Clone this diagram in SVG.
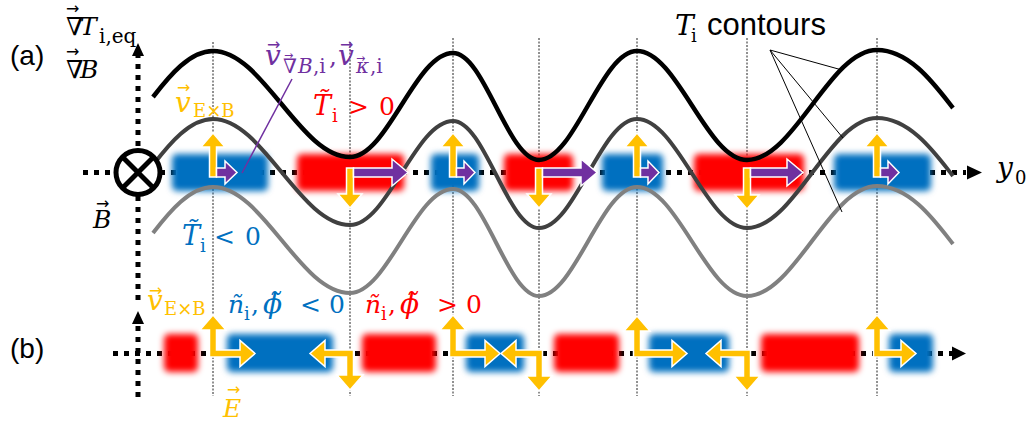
<svg xmlns="http://www.w3.org/2000/svg" width="1035" height="421" viewBox="0 0 1035 421">
<style>
.ax{stroke:#000;stroke-width:5;stroke-dasharray:5 6;fill:none}
.vl{stroke:#222;stroke-width:1;stroke-dasharray:2 1.5;fill:none}
.c1{stroke:#000;stroke-width:4.5;fill:none}
.c2{stroke:#404040;stroke-width:4;fill:none}
.c3{stroke:#808080;stroke-width:4;fill:none}
.bl{fill:#0070C0}
.rd{fill:#FF0000}
.ya{fill:#FFC000;stroke:#fff;stroke-width:1.5}
.pa{fill:#7030A0;stroke:#fff;stroke-width:1.5}
.ah{fill:#000}
.ptr{stroke:#000;stroke-width:1;fill:none}
text{font-family:"DejaVu Serif","Liberation Serif",serif}
.lab{font-family:"Liberation Sans",Arial,sans-serif;font-size:28px}
.it{font-style:italic}
.s25{font-size:25px}
.s27{font-size:27px}
.s28{font-size:28px}
.sub{font-size:18px;font-style:normal}
.sb2{font-size:20px;font-style:normal}
.vec{font-family:"DejaVu Sans",sans-serif;font-size:16px;font-style:normal}
.vs{font-family:"DejaVu Sans",sans-serif;font-size:11px;font-style:normal}
.cy{fill:#FFC000}
.cb{fill:#0070C0}
.cr{fill:#FF0000}
.cp{fill:#7030A0}
</style>
<defs>
<filter id="soft" x="-30%" y="-40%" width="160%" height="180%">
<feGaussianBlur stdDeviation="3.3"/>
</filter>
<path id="wave" d="M153,97 C170,75 190,51 213,51 C263,51 300,157 350,157 C387.5,157 415.5,53 453,53 C484.3,53 507.7,160 539,160 C574.7,160 601.3,51 637,51 C677,51 707,160 747,160 C794.3,160 829.7,50 877,50 C910,50 935,85 953,108"/>
</defs>

<g id="guides">
<line class="vl" x1="213" y1="42" x2="213" y2="396"/>
<line class="vl" x1="350" y1="42" x2="350" y2="396"/>
<line class="vl" x1="453" y1="38" x2="453" y2="396"/>
<line class="vl" x1="539" y1="38" x2="539" y2="396"/>
<line class="vl" x1="637" y1="38" x2="637" y2="396"/>
<line class="vl" x1="747" y1="38" x2="747" y2="396"/>
<line class="vl" x1="877" y1="38" x2="877" y2="396"/>
</g>

<g id="axes">
<line class="ax" x1="138" y1="300" x2="138" y2="56"/>
<polygon class="ah" points="138,43 132,56 144,56"/>
<line class="ax" x1="83" y1="172.5" x2="966" y2="172.5"/>
<polygon class="ah" points="982,172.5 967,165.5 967,179.5"/>
<line class="ax" x1="138" y1="397" x2="138" y2="324"/>
<polygon class="ah" points="138,311 132,324 144,324"/>
<line class="ax" x1="113" y1="353.5" x2="952" y2="353.5"/>
<polygon class="ah" points="966,353.5 952,346.5 952,360.5"/>
</g>

<g id="blobs-a" filter="url(#soft)">
<rect class="bl" x="172" y="154" width="96" height="37" rx="5"/>
<rect class="rd" x="297" y="154" width="107" height="37" rx="5"/>
<rect class="bl" x="431" y="154" width="48" height="37" rx="5"/>
<rect class="rd" x="504" y="154" width="69" height="37" rx="5"/>
<rect class="bl" x="602" y="154" width="61" height="37" rx="5"/>
<rect class="rd" x="694" y="154" width="110" height="37" rx="5"/>
<rect class="bl" x="834" y="154" width="97" height="37" rx="5"/>
</g>
<g id="blobs-b" filter="url(#soft)">
<rect class="rd" x="164" y="334" width="34" height="38" rx="5"/>
<rect class="bl" x="227" y="334" width="106" height="38" rx="5"/>
<rect class="rd" x="362" y="334" width="74" height="38" rx="5"/>
<rect class="bl" x="466" y="334" width="58" height="38" rx="5"/>
<rect class="rd" x="554" y="334" width="65" height="38" rx="5"/>
<rect class="bl" x="649" y="334" width="80" height="38" rx="5"/>
<rect class="rd" x="761" y="334" width="98" height="38" rx="5"/>
<rect class="bl" x="889" y="334" width="44" height="38" rx="5"/>
</g>

<g id="contours">
<use href="#wave" class="c3" transform="translate(0,136)"/>
<use href="#wave" class="c2" transform="translate(0,68)"/>
<use href="#wave" class="c1"/>
</g>

<g id="connectors">
<line class="ptr" x1="770" y1="50" x2="842" y2="70"/>
<line class="ptr" x1="770" y1="50" x2="843" y2="138"/>
<line class="ptr" x1="770" y1="50" x2="842" y2="212"/>
<line x1="292" y1="79" x2="242" y2="173" stroke="#7030A0" stroke-width="1.5"/>
</g>

<g id="b-field">
<circle cx="138" cy="172.5" r="22" fill="#fff" stroke="#000" stroke-width="5"/>
<line x1="122.5" y1="157" x2="153.5" y2="188" stroke="#000" stroke-width="5"/>
<line x1="153.5" y1="157" x2="122.5" y2="188" stroke="#000" stroke-width="5"/>
</g>

<g id="arrows-a">
<polygon class="ya" points="209.5,177 209.5,147 201,147 213,133 225,147 216.5,147 216.5,177"/>
<polygon class="pa" points="216.5,168 225,168 225,161 237,172.5 225,184 225,177 216.5,177"/>
<polygon class="ya" points="346.5,168 353.5,168 353.5,194 362,194 350,208 338,194 346.5,194"/>
<polygon class="pa" points="353.5,168 392,168 392,159 408,172.5 392,186 392,177 353.5,177"/>
<polygon class="ya" points="449.5,177 449.5,147 441,147 453,133 465,147 456.5,147 456.5,177"/>
<polygon class="pa" points="456.5,168 464,168 464,161 475,172.5 464,184 464,177 456.5,177"/>
<polygon class="ya" points="535.5,168 542.5,168 542.5,194 551,194 539,208 527,194 535.5,194"/>
<polygon class="pa" points="542.5,168 581,168 581,159 597,172.5 581,186 581,177 542.5,177"/>
<polygon class="ya" points="633.5,177 633.5,147 625,147 637,133 649,147 640.5,147 640.5,177"/>
<polygon class="pa" points="640.5,168 648,168 648,161 659,172.5 648,184 648,177 640.5,177"/>
<polygon class="ya" points="743.5,168 750.5,168 750.5,195 759,195 747,209 735,195 743.5,195"/>
<polygon class="pa" points="750.5,168 787,168 787,159 803,172.5 787,186 787,177 750.5,177"/>
<polygon class="ya" points="873.5,177 873.5,147 865,147 877,133 889,147 880.5,147 880.5,177"/>
<polygon class="pa" points="880.5,168 888,168 888,161 899,172.5 888,184 888,177 880.5,177"/>
</g>

<g id="arrows-b">
<polygon class="ya" points="209.5,357 209.5,330 200,330 213,315 226,330 216.5,330 216.5,350 240,350 240,340.5 255,353.5 240,366.5 240,357"/>
<polygon class="ya" points="353.5,350 353.5,375 363,375 350,390 337,375 346.5,375 346.5,357 325,357 325,366.5 310,353.5 325,340.5 325,350"/>
<polygon class="ya" points="449.5,357 449.5,330 440,330 453,315 466,330 456.5,330 456.5,350 485,350 485,340.5 500,353.5 485,366.5 485,357"/>
<polygon class="ya" points="542.5,350 542.5,376 552,376 539,391 526,376 535.5,376 535.5,357 516,357 516,366.5 501,353.5 516,340.5 516,350"/>
<polygon class="ya" points="633.5,357 633.5,331 624,331 637,316 650,331 640.5,331 640.5,350 672,350 672,340.5 687,353.5 672,366.5 672,357"/>
<polygon class="ya" points="750.5,350 750.5,376 760,376 747,391 734,376 743.5,376 743.5,357 721,357 721,366.5 706,353.5 721,340.5 721,350"/>
<polygon class="ya" points="873.5,357 873.5,330 864,330 877,315 890,330 880.5,330 880.5,350 901,350 901,340.5 916,353.5 901,366.5 901,357"/>
</g>

<g id="labels">
<text class="lab" x="10" y="65">(a)</text>
<text class="lab" x="10" y="358">(b)</text>
<text class="s25"><tspan class="vec" x="66" y="14">→</tspan><tspan x="66" y="35">∇</tspan><tspan class="it" x="80" y="35">T</tspan><tspan class="sb2" x="99" y="43">i,eq</tspan></text>
<text class="s25"><tspan class="vec" x="66" y="57">→</tspan><tspan x="66" y="78">∇</tspan><tspan class="it" x="80" y="78">B</tspan></text>
<text class="s25"><tspan class="vec" x="96" y="209">→</tspan><tspan class="it" x="93" y="228">B</tspan></text>
<text class="s28"><tspan class="it" x="997" y="177">y</tspan><tspan class="sub" x="1015" y="184">0</tspan></text>
<text><tspan class="s28 it" x="675" y="35">T</tspan><tspan class="sub" x="691" y="42">i</tspan><tspan class="lab" style="font-size:31px" x="707" y="35">contours</tspan></text>
<text class="cy"><tspan class="vec" x="177" y="93">→</tspan><tspan class="s28 it" x="175" y="112">v</tspan><tspan class="sub" x="193" y="117">E×B</tspan></text>
<text class="cp"><tspan class="vec" x="267" y="50">→</tspan><tspan class="s28 it" x="265" y="65">v</tspan><tspan class="vs" x="284" y="59">→</tspan><tspan class="sb2" x="283" y="73">∇</tspan><tspan class="sb2" style="font-style:italic" x="298" y="73">B</tspan><tspan class="sb2" x="313" y="73">,i</tspan><tspan class="s25" x="329" y="65">,</tspan><tspan class="vec" x="340" y="50">→</tspan><tspan class="s28 it" x="338" y="65">v</tspan><tspan class="vs" x="356" y="62">→</tspan><tspan class="sb2" style="font-style:italic" x="356" y="73">κ</tspan><tspan class="sb2" x="370" y="73">,i</tspan></text>
<text class="cr s25"><tspan class="it s27" x="313" y="115">T̃</tspan><tspan class="sub" x="332" y="122">i</tspan><tspan x="348" y="115">&gt;</tspan><tspan x="379" y="115">0</tspan></text>
<text class="cb s25"><tspan class="it s27" x="182" y="245">T̃</tspan><tspan class="sub" x="200" y="252">i</tspan><tspan x="214" y="245">&lt;</tspan><tspan x="245" y="245">0</tspan></text>
<text class="cy"><tspan class="vec" x="149" y="296">→</tspan><tspan class="s28 it" x="147" y="310">v</tspan><tspan class="sub" x="164" y="315">E×B</tspan></text>
<text class="cb s25"><tspan class="it" x="228" y="313">ñ</tspan><tspan class="sub" x="244" y="320">i</tspan><tspan x="251" y="313">,</tspan><tspan class="it s28" x="263" y="313">ϕ̃</tspan><tspan x="300" y="313">&lt;</tspan><tspan x="329" y="313">0</tspan></text>
<text class="cr s25"><tspan class="it" x="365" y="313">ñ</tspan><tspan class="sub" x="381" y="320">i</tspan><tspan x="388" y="313">,</tspan><tspan class="it s28" x="400" y="313">ϕ̃</tspan><tspan x="437" y="313">&gt;</tspan><tspan x="466" y="313">0</tspan></text>
<text class="cy s25"><tspan class="vec" x="227" y="395">→</tspan><tspan class="it" x="223" y="417">E</tspan></text>
</g>
</svg>
